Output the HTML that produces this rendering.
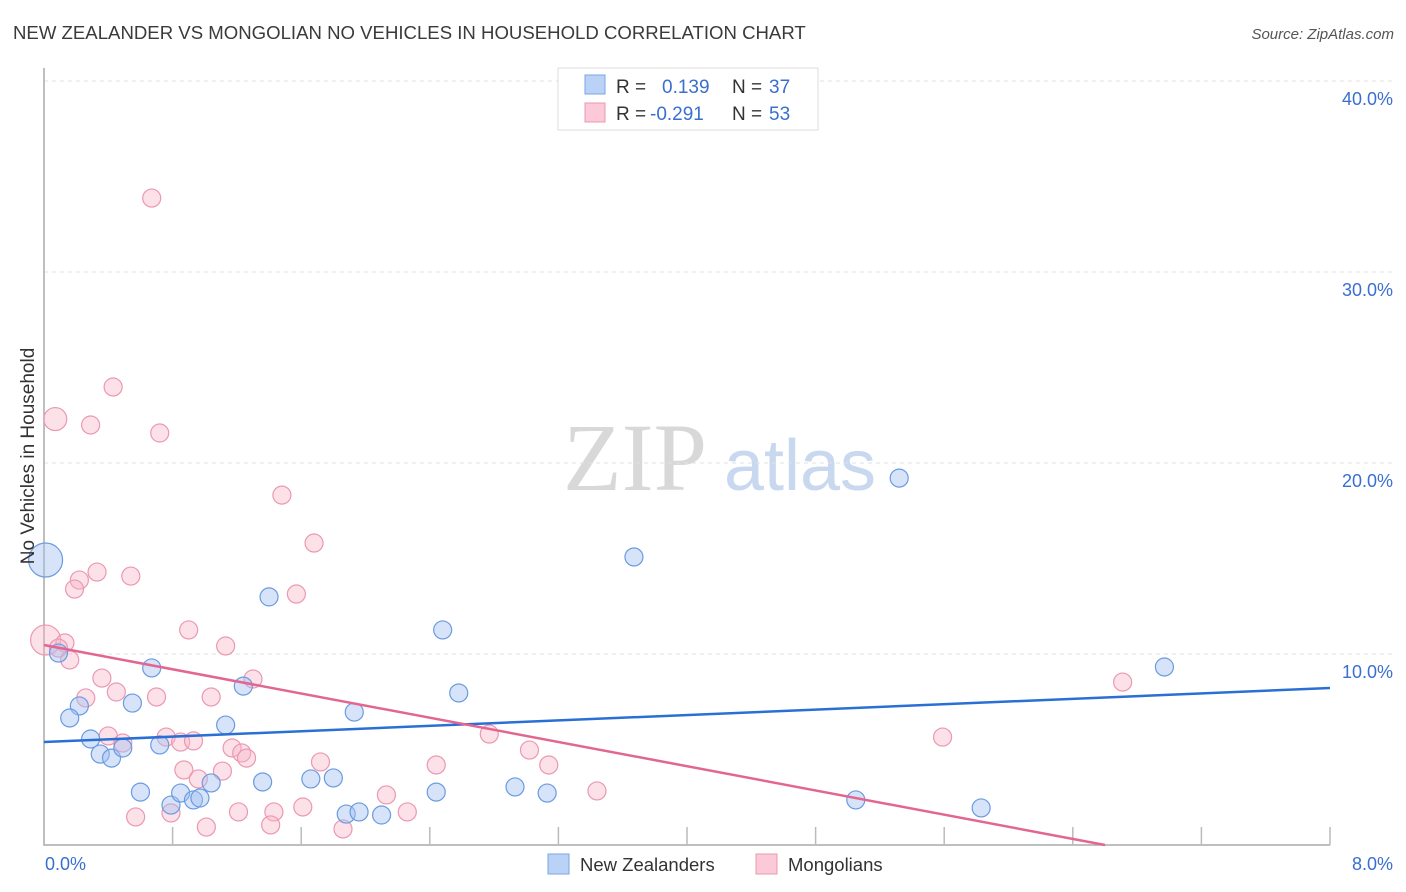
<!DOCTYPE html>
<html><head><meta charset="utf-8"><style>
body{margin:0;background:#fff;font-family:"Liberation Sans",sans-serif;}
svg{display:block}
</style></head><body>
<svg id="chart" width="1406" height="892" xmlns="http://www.w3.org/2000/svg">
<text x="13" y="39" font-size="18.6" fill="#3a3a3a" font-family="Liberation Sans, sans-serif">NEW ZEALANDER VS MONGOLIAN NO VEHICLES IN HOUSEHOLD CORRELATION CHART</text>
<text x="1394" y="39" font-size="15" fill="#555" font-style="italic" text-anchor="end">Source: ZipAtlas.com</text>
<g>
<text x="635" y="490" font-size="96" fill="#d8d8d8" font-family="Liberation Serif, serif" text-anchor="middle">ZIP</text>
<text x="800" y="490" font-size="72" fill="#c8d8ef" text-anchor="middle">atlas</text>
</g>
<g id="grid"></g>
<g id="axes"></g>
<g id="marks"></g>
<g>
<rect x="558" y="68" width="260" height="62" fill="#fff" stroke="#ddd"/>
<rect x="585" y="75" width="20" height="19" fill="#b9d2f5" stroke="#7ba6e4"/>
<rect x="585" y="103" width="20" height="19" fill="#fbc9d7" stroke="#eb98b2"/>
<text x="616" y="93" font-size="19" fill="#333">R =</text>
<text x="662" y="93" font-size="19" fill="#3a6fd0">0.139</text>
<text x="732" y="93" font-size="19" fill="#333">N =</text>
<text x="769" y="93" font-size="19" fill="#3a6fd0">37</text>
<text x="616" y="120" font-size="19" fill="#333">R =</text>
<text x="650" y="120" font-size="19" fill="#3a6fd0">-0.291</text>
<text x="732" y="120" font-size="19" fill="#333">N =</text>
<text x="769" y="120" font-size="19" fill="#3a6fd0">53</text>
</g>
<g>
<rect x="548" y="854" width="21" height="20" fill="#b9d2f5" stroke="#7ba6e4"/>
<text x="580" y="871" font-size="18.5" fill="#333">New Zealanders</text>
<rect x="756" y="854" width="21" height="20" fill="#fbc9d7" stroke="#eb98b2"/>
<text x="788" y="871" font-size="18.5" fill="#333">Mongolians</text>
</g>
<text transform="translate(34,456) rotate(-90)" font-size="19" fill="#333" text-anchor="middle">No Vehicles in Household</text>
</svg>
<script>
const yTicks=[10,20,30,40];
const yTickLabels=["10.0%","20.0%","30.0%","40.0%"];
const xTicks=[0.8,1.6,2.4,3.2,4.0,4.8,5.6,6.4,7.2,8.0];
const nzX=[0.01,5.32,3.67,1.40,2.48,6.97,0.67,0.09,1.24,2.58,0.22,0.16,0.55,1.13,1.93,0.29,0.35,0.42,0.49,0.72,0.60,0.79,0.85,0.93,0.97,1.04,1.36,1.66,1.80,1.88,1.96,2.10,2.44,2.93,3.13,5.05,5.83];
const nzY=[14.92,19.21,15.08,12.99,11.26,9.32,9.27,10.05,8.32,7.96,7.28,6.65,7.43,6.28,6.96,5.55,4.76,4.55,5.08,5.24,2.77,2.09,2.72,2.36,2.46,3.25,3.30,3.46,3.51,1.62,1.73,1.57,2.77,3.04,2.72,2.36,1.94];
const mnX=[0.67,0.43,0.07,0.29,0.72,1.48,1.68,0.33,0.54,0.22,0.19,1.57,0.90,1.13,0.01,0.13,0.09,0.16,1.30,0.36,0.45,0.26,0.70,1.04,6.71,2.77,5.59,0.76,0.85,0.93,0.40,0.49,1.17,1.23,1.26,0.87,0.96,1.11,1.72,3.02,3.14,2.44,0.57,0.79,1.01,1.21,1.43,1.41,1.61,1.86,2.13,2.26,3.44];
const mnY=[33.87,23.98,22.30,21.99,21.57,18.32,15.81,14.29,14.08,13.87,13.40,13.14,11.26,10.42,10.73,10.58,10.31,9.69,8.69,8.74,8.01,7.70,7.75,7.75,8.53,5.81,5.65,5.65,5.39,5.45,5.71,5.34,5.08,4.82,4.55,3.93,3.46,3.87,4.35,4.97,4.19,4.19,1.47,1.68,0.94,1.73,1.73,1.05,1.99,0.84,2.62,1.73,2.83];
const nzLine=[5.39,8.22];
const mnLine=[10.47,-2.22];
const NS="http://www.w3.org/2000/svg";
const X0=44,X1=1330,Y0=845,PX=19.1;
function sx(v){return X0+(X1-X0)*v/8;}
function sy(v){return Y0-v*PX;}
function mk(tag,attrs,parent){const e=document.createElementNS(NS,tag);for(const k in attrs)e.setAttribute(k,attrs[k]);parent.appendChild(e);return e;}
const grid=document.getElementById('grid'),axes=document.getElementById('axes'),marks=document.getElementById('marks');
yTicks.forEach((t,i)=>{
 const l=mk('line',{x1:X0,x2:1393,y1:sy(t),y2:sy(t),stroke:'#e2e2e2','stroke-dasharray':'4,4'},grid);
 
 
 const tx=mk('text',{x:1393,y:sy(t)+24,'font-size':18,fill:'#3a6fd0','text-anchor':'end'},axes);
 tx.textContent=yTickLabels[i];
 
 
});
const ax=mk('path',{d:`M${X0} 68 V${Y0} H${X1}`,stroke:'#aaa',fill:'none','stroke-width':1.5},axes);


xTicks.forEach(t=>{
 const l=mk('line',{x1:sx(t),x2:sx(t),y1:Y0,y2:Y0-18,stroke:'#bbb','stroke-width':1.5},axes);
 
 
});
const xl0=mk('text',{x:45,y:870,'font-size':18,fill:'#3a6fd0'},axes);xl0.textContent='0.0%';


const xl1=mk('text',{x:1393,y:870,'font-size':18,fill:'#3a6fd0','text-anchor':'end'},axes);xl1.textContent='8.0%';


mnX.forEach((x,i)=>{
 let r=9; if(i===14) r=15; if(i===2) r=11.5;
 const c=mk('circle',{cx:sx(x),cy:sy(mnY[i]),r:r,fill:'rgba(248,180,200,0.4)',stroke:'#eb98b2','stroke-width':1.2},marks);
 
 
});
nzX.forEach((x,i)=>{
 const r=i===0?17:9;
 const c=mk('circle',{cx:sx(x),cy:sy(nzY[i]),r:r,fill:'rgba(164,194,240,0.45)',stroke:'#6a9be0','stroke-width':1.2},marks);
 
 
});
const bl=mk('line',{x1:sx(0),y1:sy(nzLine[0]),x2:sx(8),y2:sy(nzLine[1]),stroke:'#2a6fd6','stroke-width':2.5},marks);


const zx=8*mnLine[0]/(mnLine[0]-mnLine[1]);
const pl=mk('line',{x1:sx(0),y1:sy(mnLine[0]),x2:sx(zx),y2:sy(0),stroke:'#e2668f','stroke-width':2.5},marks);


</script>
</body></html>
